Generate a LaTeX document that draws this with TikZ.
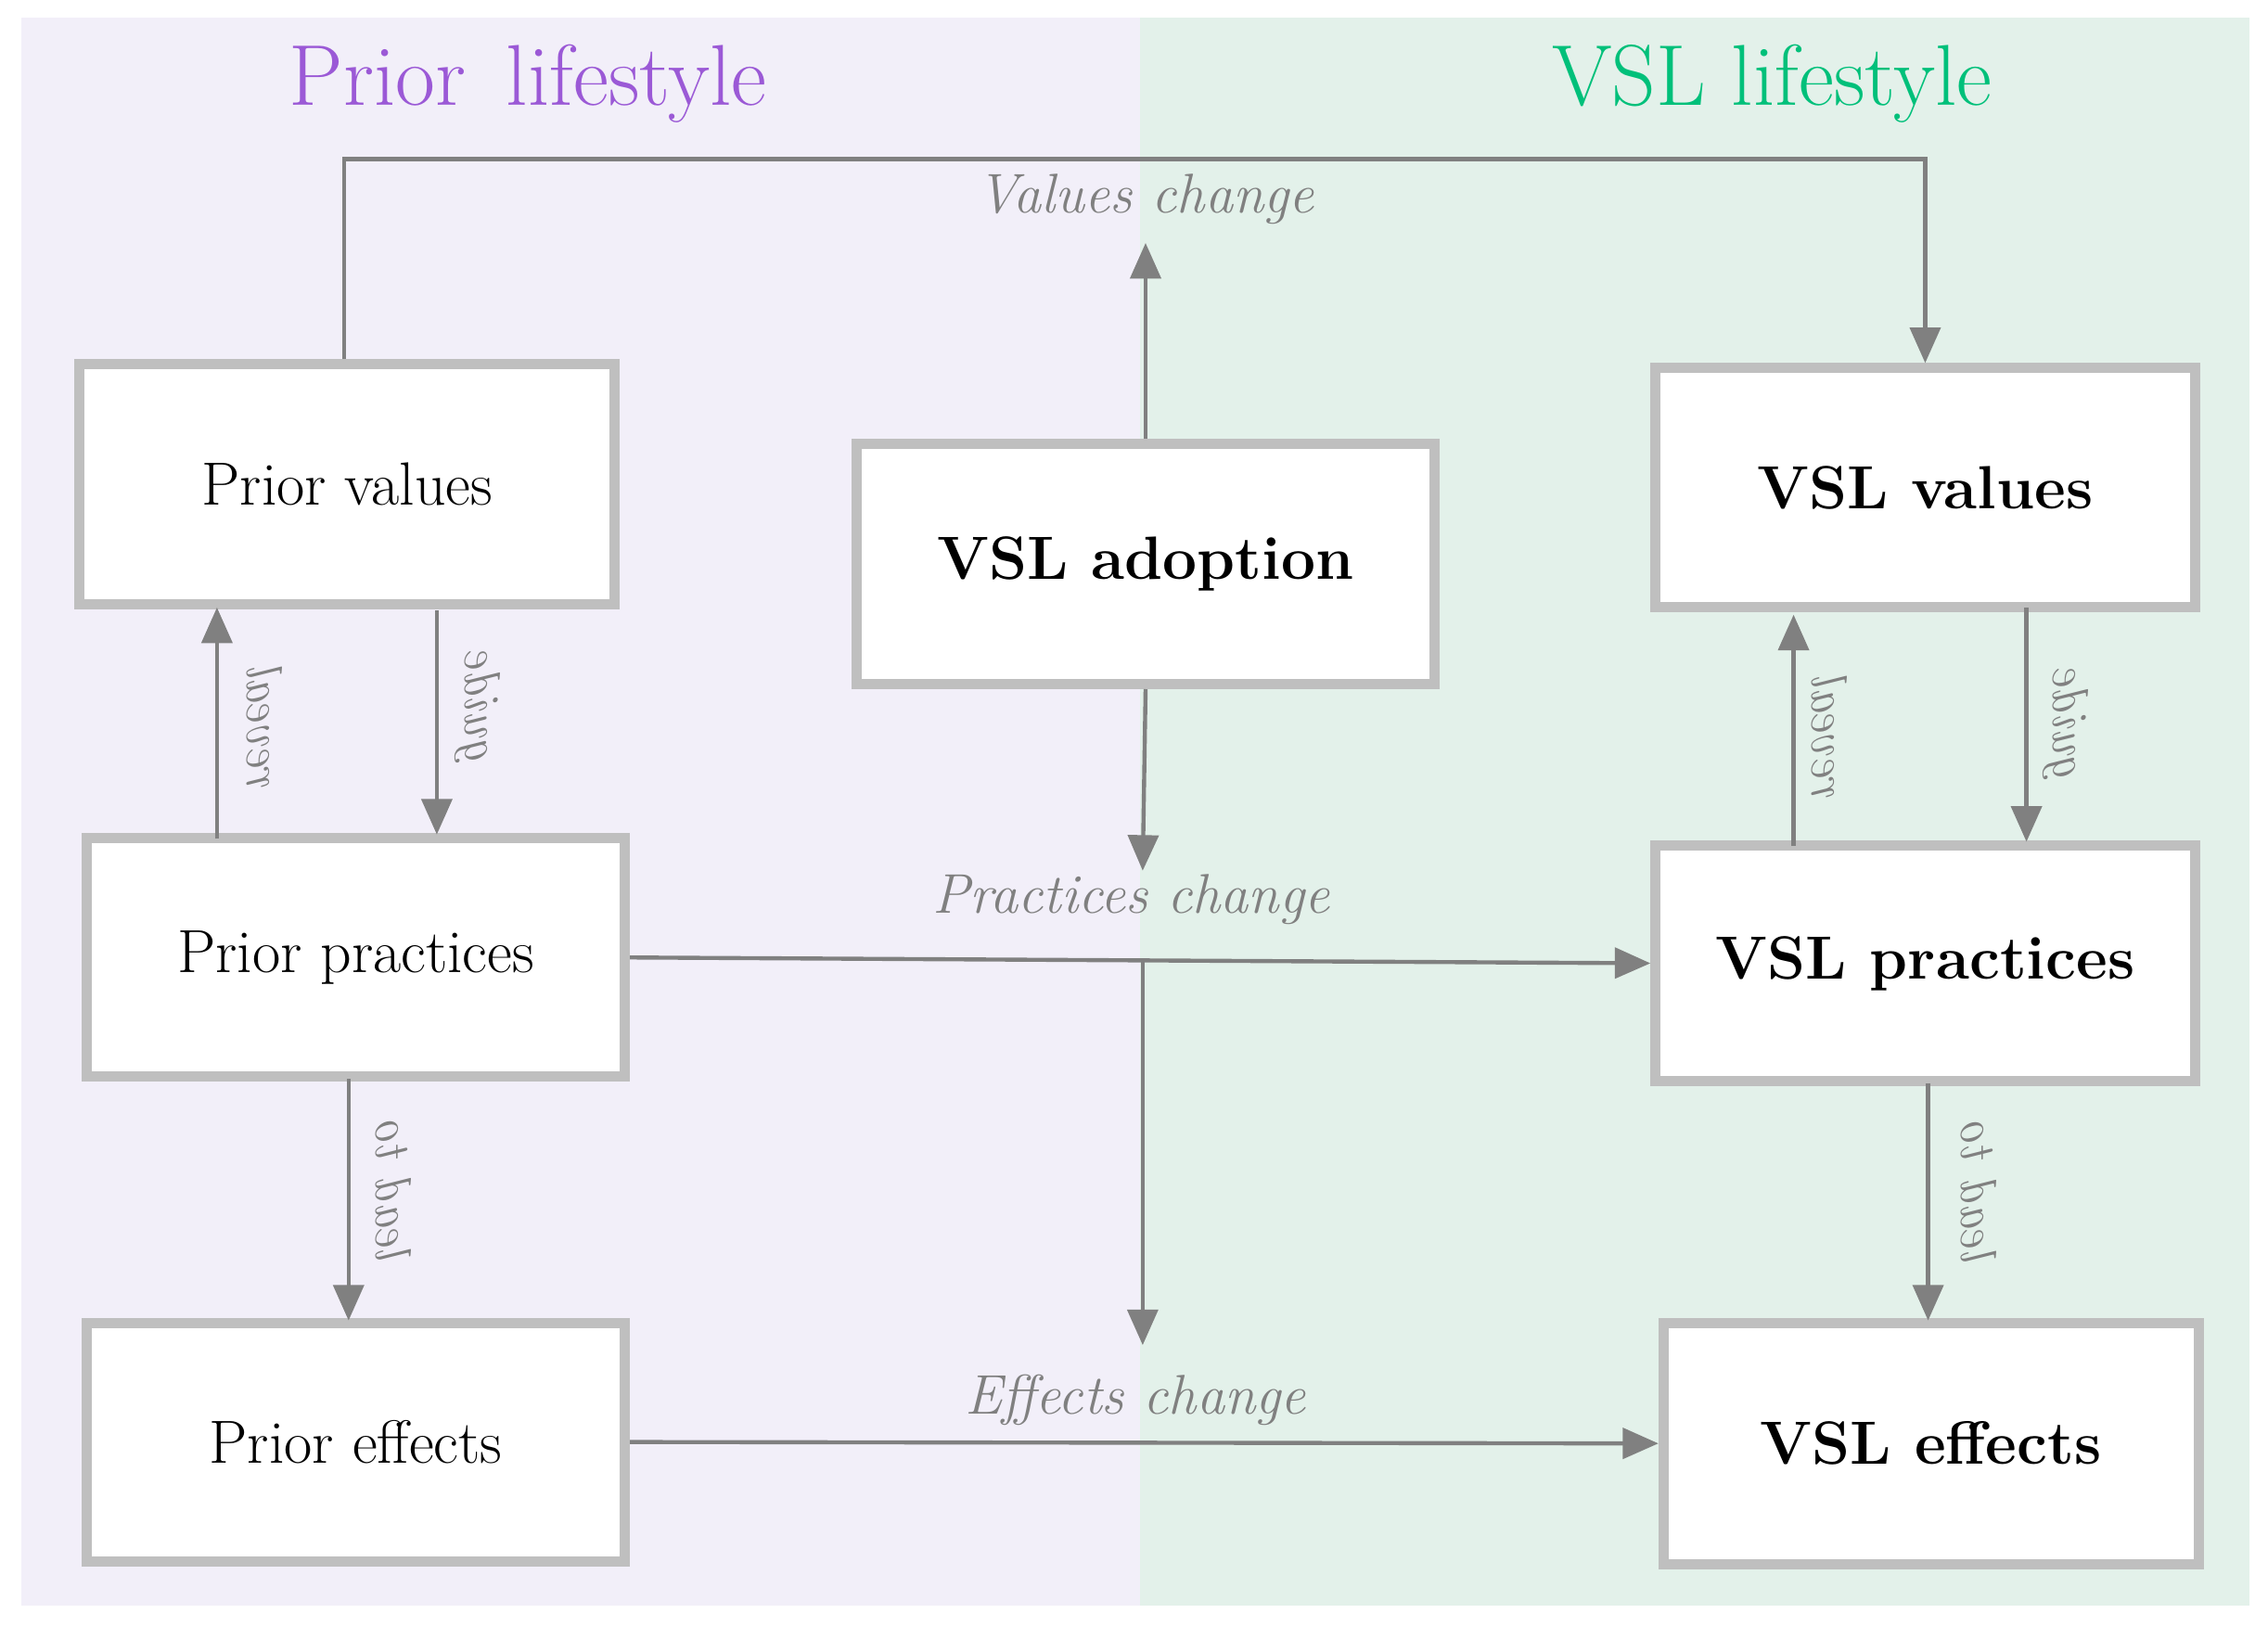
\documentclass[tikz,border=0pt]{standalone}
\usetikzlibrary{arrows.meta}
\definecolor{lbg}{HTML}{F2EFF9}
\definecolor{rbg}{HTML}{E3F1EA}
\definecolor{bx}{HTML}{BFBFBF}
\definecolor{ar}{HTML}{808080}
\definecolor{pur}{HTML}{9B59D6}
\definecolor{grn}{HTML}{00C07A}
\begin{document}
\begin{tikzpicture}[x=0.02cm,y=-0.02cm,
  box/.style={draw=bx,line width=4pt,fill=white,inner sep=0pt},
  arr/.style={draw=ar,line width=1.6pt,-{Triangle[length=14pt,width=12pt]}},
  lab/.style={text=ar,font=\fontsize{22}{26}\selectfont\itshape},
  vlab/.style={text=ar,font=\fontsize{20}{24}\selectfont\itshape,rotate=90,yscale=-1}]
\useasboundingbox (0,0) rectangle (1568,1124);
\fill[white] (0,0) rectangle (1568,1124);
\fill[lbg] (15,12) rectangle (788,1110);
\fill[rbg] (788,12) rectangle (1555,1110);
\node[text=pur,font=\fontsize{34}{40}\selectfont] (t1) at (365,58) {Prior\, lifestyle};
\node[text=grn,font=\fontsize{34}{40}\selectfont] (t2) at (1225,58) {VSL lifestyle};
\tikzset{bt/.style={font=\fontsize{24}{30}\selectfont},bb/.style={font=\fontsize{24}{30}\selectfont\bfseries}}
\node[box,bt,minimum width=7.4cm,minimum height=3.32cm] (pv) at (240,335) {Prior values};
\node[box,bb,minimum width=8.0cm,minimum height=3.32cm] (va) at (792,390) {VSL adoption};
\node[box,bb,minimum width=7.46cm,minimum height=3.3cm] (vv) at (1331,337) {VSL values};
\node[box,bt,minimum width=7.44cm,minimum height=3.3cm] (pp) at (246,662) {Prior practices};
\node[box,bb,minimum width=7.46cm,minimum height=3.26cm] (vp) at (1331,666) {VSL practices};
\node[box,bt,minimum width=7.44cm,minimum height=3.3cm] (pe) at (246,997) {Prior effects};
\node[box,bb,minimum width=7.4cm,minimum height=3.34cm] (ve) at (1335,998) {VSL effects};
\coordinate (c1) at (238,110);
\coordinate (c2) at (1331,110);
\draw[arr] (pv.north -| c1) -- (c1) -- (c2) -- (vv.north -| c2);
\coordinate (vc) at (792,168);
\draw[arr] (va.north) -- (vc);
\node[lab] (l1) at (792,138) {Values change};
\coordinate (pc) at (790,602);
\draw[arr] (va.south) -- (pc);
\node[lab] (l2) at (782,622) {Practices change};
\coordinate (ec0) at (790,665);
\coordinate (ec) at (790,930);
\draw[arr] (ec0) -- (ec);
\node[lab] (l3) at (785,968) {Effects change};
\draw[arr] (pp.east) -- (vp.west);
\draw[arr] (pe.east) -- (ve.west);
\coordinate (r1) at (150,580); \coordinate (r2) at (150,420);
\draw[arr] (r1) -- (r2);
\node[vlab] at (183,505) {reveal};
\coordinate (g1) at (302,422); \coordinate (g2) at (302,577);
\draw[arr] (g1) -- (g2);
\node[vlab] at (330,490) {guide};
\coordinate (d1) at (241,746); \coordinate (d2) at (241,913);
\draw[arr] (d1) -- (d2);
\node[vlab] at (272,825) {lead to};
\coordinate (r3) at (1240,585); \coordinate (r4) at (1240,425);
\draw[arr] (r3) -- (r4);
\node[vlab] at (1265,512) {reveal};
\coordinate (g3) at (1401,420); \coordinate (g4) at (1401,582);
\draw[arr] (g3) -- (g4);
\node[vlab] at (1428,502) {guide};
\coordinate (d3) at (1333,749); \coordinate (d4) at (1333,913);
\draw[arr] (d3) -- (d4);
\node[vlab] at (1368,826) {lead to};
\end{tikzpicture}
\end{document}
